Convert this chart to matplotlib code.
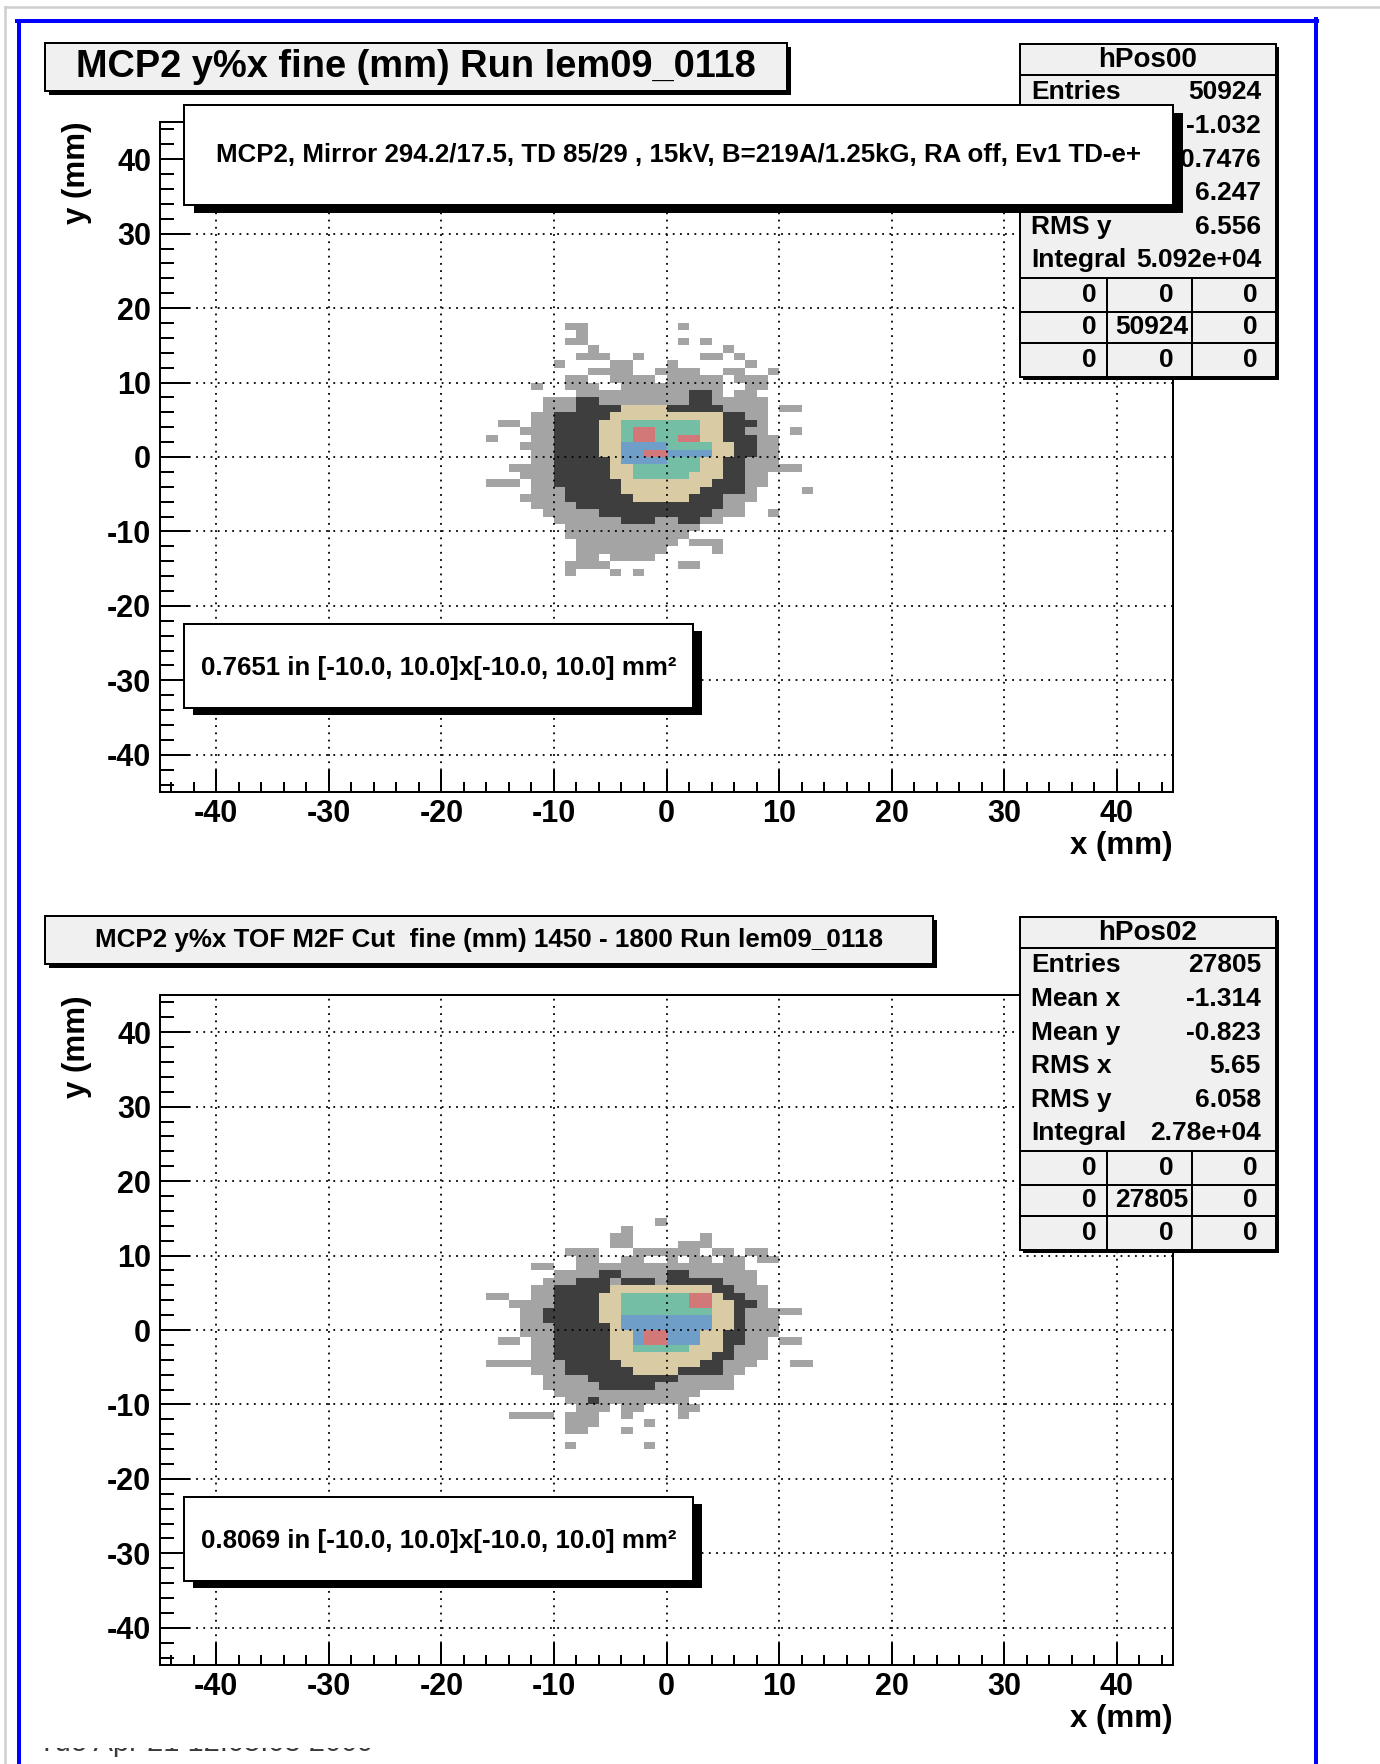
import matplotlib
matplotlib.use('Agg')
import matplotlib.pyplot as plt
import numpy as np
from matplotlib.colors import ListedColormap, BoundaryNorm
from matplotlib.patches import Rectangle
from matplotlib.lines import Line2D
from matplotlib.transforms import Bbox, TransformedBbox

plt.rcParams['font.family'] = ['Liberation Sans', 'DejaVu Sans']
plt.rcParams['axes.unicode_minus'] = False

# ---------------- data ----------------
titles = ["MCP2 y%x fine (mm) Run lem09_0118",
          "MCP2 y%x TOF M2F Cut  fine (mm) 1450 - 1800 Run lem09_0118"]
title_sizes = [27.4, 18.7]
hist_names = ["hPos00", "hPos02"]
stat_labels = ["Entries", "Mean x", "Mean y", "RMS x", "RMS y", "Integral"]
stat_values_top = ["50924", "-1.032", "0.7476", "6.247", "6.556", "5.092e+04"]
stat_values_bottom = ["27805", "-1.314", "-0.823", "5.65", "6.058", "2.78e+04"]
table_top = [["0", "0", "0"], ["0", "50924", "0"], ["0", "0", "0"]]
table_bottom = [["0", "0", "0"], ["0", "27805", "0"], ["0", "0", "0"]]
info_text = "MCP2, Mirror 294.2/17.5, TD 85/29 , 15kV, B=219A/1.25kG, RA off, Ev1 TD-e+"
fraction_top = 0.7651
fraction_bottom = 0.8069
x_major = [-40, -30, -20, -10, 0, 10, 20, 30, 40]
y_major = [-40, -30, -20, -10, 0, 10, 20, 30, 40]
axis_range = (-45, 45)
date_text = "Tue Apr 21 12:05:03 2009"

# colour level of the 1 mm cells: (y bin, x from, x to, level)
# levels: 1 light grey, 2 dark grey, 3 tan, 4 teal, 5 blue, 6 red
top_cells = [
    (17, -9, -8, 1), (17, 1, 1, 1),
    (16, -8, -8, 1),
    (15, -9, -8, 1), (15, 1, 1, 1), (15, 3, 3, 1),
    (14, -7, -7, 1), (14, 5, 5, 1),
    (13, -8, -6, 1), (13, -3, -3, 1), (13, 3, 4, 1), (13, 6, 6, 1),
    (12, -10, -10, 1), (12, -5, -4, 1), (12, 0, 0, 1), (12, 7, 7, 1),
    (11, -7, -5, 1), (11, -4, -4, 1), (11, -1, 0, 1), (11, 1, 2, 1), (11, 5, 6, 1), (11, 9, 9, 1),
    (10, -9, -8, 1), (10, -5, -4, 1), (10, -3, -2, 1), (10, 0, 1, 1), (10, 2, 4, 1), (10, 6, 8, 1),
    (9, -12, -12, 1), (9, -9, -7, 1), (9, -4, -3, 1), (9, -2, -1, 1), (9, 0, 1, 1), (9, 2, 4, 1), (9, 7, 8, 1),
    (8, -8, -6, 1), (8, -5, 4, 1), (8, 2, 3, 2), (8, 6, 7, 1),
    (7, -11, 8, 1), (7, -8, -7, 2), (7, 2, 3, 2),
    (6, -11, 8, 1), (6, -8, -5, 2), (6, -4, 0, 3), (6, 0, 4, 2), (6, 10, 11, 1),
    (5, -12, 8, 1), (5, -10, -5, 2), (5, -5, 4, 3), (5, 5, 6, 2),
    (4, -15, -14, 1), (4, -12, 8, 1), (4, -10, -6, 2), (4, -6, -4, 3), (4, -4, 2, 4), (4, 3, 4, 3), (4, 5, 7, 2),
    (3, -13, 8, 1), (3, -10, -6, 2), (3, -6, -4, 3), (3, -4, 3, 4), (3, -3, -2, 6), (3, 3, 5, 3), (3, 5, 6, 2), (3, 11, 11, 1),
    (2, -16, -16, 1), (2, -12, 9, 1), (2, -10, -6, 2), (2, -6, -4, 3), (2, -4, 3, 4), (2, -3, -2, 6), (2, 1, 2, 6), (2, 3, 5, 3), (2, 5, 7, 2),
    (1, -13, 9, 1), (1, -10, -6, 2), (1, -6, -4, 3), (1, -4, 3, 5), (1, 0, 3, 4), (1, 4, 5, 3), (1, 6, 7, 2),
    (0, -12, 9, 1), (0, -10, -6, 2), (0, -6, -4, 3), (0, -4, 3, 5), (0, -2, -1, 6), (0, 4, 5, 3), (0, 6, 7, 2),
    (-1, -12, 9, 1), (-1, -10, -5, 2), (-1, -5, -4, 3), (-1, -4, 2, 5), (-1, 0, 2, 4), (-1, 3, 4, 3), (-1, 5, 6, 2),
    (-2, -14, -13, 1), (-2, -12, 9, 1), (-2, -10, -5, 2), (-2, -5, -3, 3), (-2, -3, 2, 4), (-2, 3, 4, 3), (-2, 5, 6, 2), (-2, 10, 11, 1),
    (-3, -13, 8, 1), (-3, -10, -6, 2), (-3, -5, -3, 3), (-3, -3, 1, 4), (-3, 2, 4, 3), (-3, 5, 6, 2),
    (-4, -16, -14, 1), (-4, -12, 8, 1), (-4, -10, -5, 2), (-4, -4, 3, 3), (-4, 4, 6, 2),
    (-5, -12, 7, 1), (-5, -9, -5, 2), (-5, -4, 2, 3), (-5, 3, 6, 2), (-5, 12, 12, 1),
    (-6, -13, -13, 1), (-6, -12, 7, 1), (-6, -9, -3, 2), (-6, -3, 1, 3), (-6, 2, 4, 2),
    (-7, -12, 6, 1), (-7, -8, 4, 2),
    (-8, -11, 6, 1), (-8, -6, 3, 2), (-8, 9, 9, 1),
    (-9, -10, 4, 1), (-9, -4, -2, 2), (-9, 1, 2, 2),
    (-10, -9, 2, 1),
    (-11, -9, 1, 1),
    (-12, -8, 0, 1), (-12, 2, 4, 1),
    (-13, -8, -1, 1), (-13, 4, 4, 1),
    (-14, -8, -7, 1), (-14, -5, -4, 1), (-14, -3, -2, 1),
    (-15, -9, -8, 1), (-15, -7, -6, 1), (-15, 1, 2, 1),
    (-16, -9, -9, 1), (-16, -5, -5, 1), (-16, -3, -3, 1),
]

bottom_cells = [
    (14, -1, -1, 1),
    (13, -4, -4, 1),
    (12, -5, -4, 1), (12, 3, 3, 1),
    (11, -5, -4, 1), (11, 1, 1, 1), (11, 2, 3, 1),
    (10, -9, -7, 1), (10, -3, -2, 1), (10, -1, 0, 1), (10, 1, 2, 1), (10, 4, 5, 1), (10, 7, 8, 1),
    (9, -8, -7, 1), (9, -4, -3, 1), (9, 0, 0, 1), (9, 2, 3, 1), (9, 5, 6, 1), (9, 8, 9, 1),
    (8, -12, -11, 1), (8, -8, -4, 1), (8, -3, 6, 1),
    (7, -10, 7, 1), (7, -6, -5, 2), (7, 0, 1, 2),
    (6, -11, 7, 1), (6, -8, -6, 2), (6, -4, -2, 2), (6, 0, 4, 2),
    (5, -12, 8, 1), (5, -10, -6, 2), (5, -5, 3, 3), (5, 4, 5, 2),
    (4, -16, -15, 1), (4, -12, 8, 1), (4, -10, -6, 2), (4, -6, -4, 3), (4, -4, 2, 4), (4, 2, 3, 6), (4, 4, 4, 3), (4, 5, 6, 2),
    (3, -14, -14, 1), (3, -13, 8, 1), (3, -10, -6, 2), (3, -6, -4, 3), (3, -4, 2, 4), (3, 2, 3, 6), (3, 4, 5, 3), (3, 6, 7, 2),
    (2, -13, 9, 1), (2, -11, -6, 2), (2, -6, -4, 3), (2, -4, 3, 4), (2, 4, 5, 3), (2, 6, 6, 2), (2, 10, 11, 1),
    (1, -13, 9, 1), (1, -11, -6, 2), (1, -6, -4, 3), (1, -4, 3, 5), (1, 4, 5, 3), (1, 6, 6, 2),
    (0, -13, 9, 1), (0, -10, -6, 2), (0, -5, -4, 3), (0, -4, 3, 5), (0, 4, 5, 3), (0, 6, 6, 2),
    (-1, -13, 9, 1), (-1, -10, -6, 2), (-1, -5, -4, 3), (-1, -3, 2, 5), (-1, -2, -1, 6), (-1, 3, 4, 3), (-1, 5, 6, 2),
    (-2, -15, -14, 1), (-2, -12, 8, 1), (-2, -10, -6, 2), (-2, -5, -4, 3), (-2, -3, 2, 5), (-2, -2, -1, 6), (-2, 3, 4, 3), (-2, 5, 6, 2), (-2, 10, 11, 1),
    (-3, -12, 8, 1), (-3, -10, -6, 2), (-3, -5, -3, 3), (-3, -3, 1, 4), (-3, 2, 4, 3), (-3, 5, 5, 2),
    (-4, -12, 8, 1), (-4, -10, -6, 2), (-4, -5, 3, 3), (-4, 4, 5, 2),
    (-5, -16, -13, 1), (-5, -12, 7, 1), (-5, -9, -5, 2), (-5, -4, 2, 3), (-5, 3, 4, 2), (-5, 11, 12, 1),
    (-6, -12, 6, 1), (-6, -9, 4, 2), (-6, -3, 0, 3),
    (-7, -11, 5, 1), (-7, -7, 0, 2),
    (-8, -11, 5, 1), (-8, -6, -2, 2),
    (-9, -10, 2, 1),
    (-10, -9, 1, 1), (-10, -7, -7, 2),
    (-11, -8, -6, 1), (-11, -4, -3, 1), (-11, 1, 2, 1),
    (-12, -14, -11, 1), (-12, -9, -7, 1), (-12, -4, -4, 1), (-12, 1, 1, 1),
    (-13, -9, -7, 1), (-13, -2, -2, 1),
    (-14, -9, -8, 1), (-14, -4, -4, 1),
    (-16, -9, -9, 1), (-16, -2, -2, 1),
]

level_colors = ['#a4a4a4', '#3e3e3e', '#d9cba4', '#74bea6', '#6f9ec8', '#d27878']

# ---------------- figure ----------------
W, H = 1380, 1764
fig = plt.figure(figsize=(W / 100, H / 100), dpi=100)


def fx(x):
    return x / W


def fy(y):
    return 1 - y / H


def PT(px):
    return px * 72 / 100


# page borders
fig.add_artist(Line2D([fx(5), fx(W)], [fy(7), fy(7)], color='#cfcfcf', lw=PT(2.5), transform=fig.transFigure))
fig.add_artist(Line2D([fx(5), fx(5)], [fy(7), fy(H)], color='#cfcfcf', lw=PT(2.5), transform=fig.transFigure))
blue = '#0000ff'
fig.add_artist(Line2D([fx(19), fx(19)], [fy(21), fy(H + 5)], color=blue, lw=PT(4), transform=fig.transFigure))
fig.add_artist(Line2D([fx(17), fx(1317)], [fy(21), fy(21)], color=blue, lw=PT(4), transform=fig.transFigure))
fig.add_artist(Line2D([fx(1315.5), fx(1315.5)], [fy(19), fy(H + 5)], color=blue, lw=PT(4), transform=fig.transFigure))

cmap = ListedColormap(level_colors)
norm = BoundaryNorm(np.arange(0.5, 7.5, 1.0), cmap.N)
xedges = np.arange(-17, 15)
yedges = np.arange(-17, 19)


def build_grid(cells):
    g = np.zeros((len(yedges) - 1, len(xedges) - 1))
    for (yb, x0, x1, lev) in cells:
        g[yb + 17, x0 + 17:x1 + 18] = lev
    return np.ma.masked_equal(g, 0)


def box(x0, y0, x1, y1, fc, shadow, z, lw=2.0, sx=None):
    if sx is None:
        sx = shadow
    if shadow:
        fig.add_artist(Rectangle((fx(x0 + sx), fy(y1 + shadow)), (x1 - x0) / W, (y1 - y0) / H,
                                 transform=fig.transFigure, facecolor='black', edgecolor='none', zorder=z))
    fig.add_artist(Rectangle((fx(x0), fy(y1)), (x1 - x0) / W, (y1 - y0) / H,
                             transform=fig.transFigure, facecolor=fc, edgecolor='black',
                             lw=PT(lw), zorder=z + 0.1))


def txt(x, y, s, size, ha='left', z=10, **kw):
    fig.text(fx(x), fy(y), s, ha=ha, va='center', fontsize=size, fontweight='bold', zorder=z, **kw)


panels = [
    dict(dy=0, cells=top_cells, title=titles[0], tsize=title_sizes[0], title_right=787,
         name=hist_names[0], vals=stat_values_top, table=table_top, frac=fraction_top, info=True),
    dict(dy=873, cells=bottom_cells, title=titles[1], tsize=title_sizes[1], title_right=933,
         name=hist_names[1], vals=stat_values_bottom, table=table_bottom, frac=fraction_bottom, info=False),
]

for p in panels:
    dy = p['dy']
    ax = fig.add_axes([fx(160), fy(792 + dy), (1173 - 160) / W, (792 - 122) / H])
    ax.pcolormesh(xedges, yedges, build_grid(p['cells']), cmap=cmap, norm=norm, zorder=1)
    ax.set_xlim(*axis_range)
    ax.set_ylim(*axis_range)
    ax.set_xticks(x_major)
    ax.set_yticks(y_major)
    ax.set_xticks(np.arange(-44, 45, 2), minor=True)
    ax.set_yticks(np.arange(-44, 45, 2), minor=True)
    ax.set_axisbelow(False)
    ax.grid(True, which='major', color='black', linestyle=(0, (1, 3)), linewidth=1.3)
    ax.tick_params(axis='x', which='major', direction='in', length=PT(22), width=PT(2),
                   pad=PT(7), labelsize=22, top=False)
    ax.tick_params(axis='x', which='minor', direction='in', length=PT(10), width=PT(2), top=False)
    ax.tick_params(axis='y', which='major', direction='in', length=PT(30), width=PT(2),
                   pad=PT(9), labelsize=22, right=False)
    ax.tick_params(axis='y', which='minor', direction='in', length=PT(14), width=PT(2), right=False)
    for lab in ax.get_xticklabels() + ax.get_yticklabels():
        lab.set_fontweight('bold')
    for sp in ax.spines.values():
        sp.set_linewidth(PT(2))
    ax.set_xlabel('x (mm)', fontsize=22.5, fontweight='bold', loc='right')
    ax.xaxis.set_label_coords(1.0, -(846 - 792) / 670)
    ax.xaxis.label.set_va('center')
    ax.set_ylabel('y (mm)', fontsize=22.5, fontweight='bold', loc='top')
    ax.yaxis.set_label_coords((77 - 160) / 1013, 1.0)
    ax.yaxis.label.set_va('center')

    # title box
    box(45, 43 + dy, p['title_right'], 91 + dy, '#f0f0f0', 4, 5)
    txt((45 + p['title_right']) / 2, 67 + dy, p['title'], p['tsize'], ha='center', z=6)

    # stats box
    box(1020, 44 + dy, 1276, 377 + dy, '#f0f0f0', 3, 7)
    fig.add_artist(Line2D([fx(1020), fx(1276)], [fy(75 + dy)] * 2, color='black', lw=PT(2),
                          transform=fig.transFigure, zorder=7.5))
    txt(1148, 60 + dy, p['name'], 20, ha='center', z=8)
    row_y = [92, 126, 160, 193, 227, 260]
    for lab, val, ry in zip(stat_labels, p['vals'], row_y):
        txt(1031, ry + dy, lab, 19, ha='left', z=8)
        txt(1261, ry + dy, val, 19, ha='right', z=8)
    for ly in (278, 312, 343):
        fig.add_artist(Line2D([fx(1020), fx(1276)], [fy(ly + dy)] * 2, color='black', lw=PT(2),
                              transform=fig.transFigure, zorder=7.5))
    for lx in (1107, 1192):
        fig.add_artist(Line2D([fx(lx), fx(lx)], [fy(278 + dy), fy(377 + dy)], color='black', lw=PT(2),
                              transform=fig.transFigure, zorder=7.5))
    cell_y = [295, 327, 360]
    for r, row in enumerate(p['table']):
        txt(1097, cell_y[r] + dy, row[0], 19, ha='right', z=8)
        txt(1188 if len(row[1]) > 1 else 1174, cell_y[r] + dy, row[1], 19, ha='right', z=8)
        txt(1258, cell_y[r] + dy, row[2], 19, ha='right', z=8)

    # info text box (top panel only)
    if p['info']:
        box(184, 105, 1173, 205, 'white', 8, 9, sx=10)
        txt((184 + 1173) / 2, 155, info_text, 18.6, ha='center', z=10)

    # fraction box
    box(184, 624 + dy, 693, 708 + dy, 'white', 7, 9, sx=9)
    txt((184 + 693) / 2, 668 + dy,
        f"{p['frac']:.4f} in [-10.0, 10.0]x[-10.0, 10.0] mm\u00b2", 18.6, ha='center', z=10)

# date at the bottom, mostly hidden behind the pad
t = fig.text(fx(38), fy(1751), date_text, ha='left', va='baseline', fontsize=21,
             color='#3a3a3a')
t.set_clip_box(TransformedBbox(Bbox.from_extents(fx(0), fy(H), fx(W), fy(1747.5)), fig.transFigure))
t.set_clip_on(True)

fig.savefig('out.png', dpi=100)
